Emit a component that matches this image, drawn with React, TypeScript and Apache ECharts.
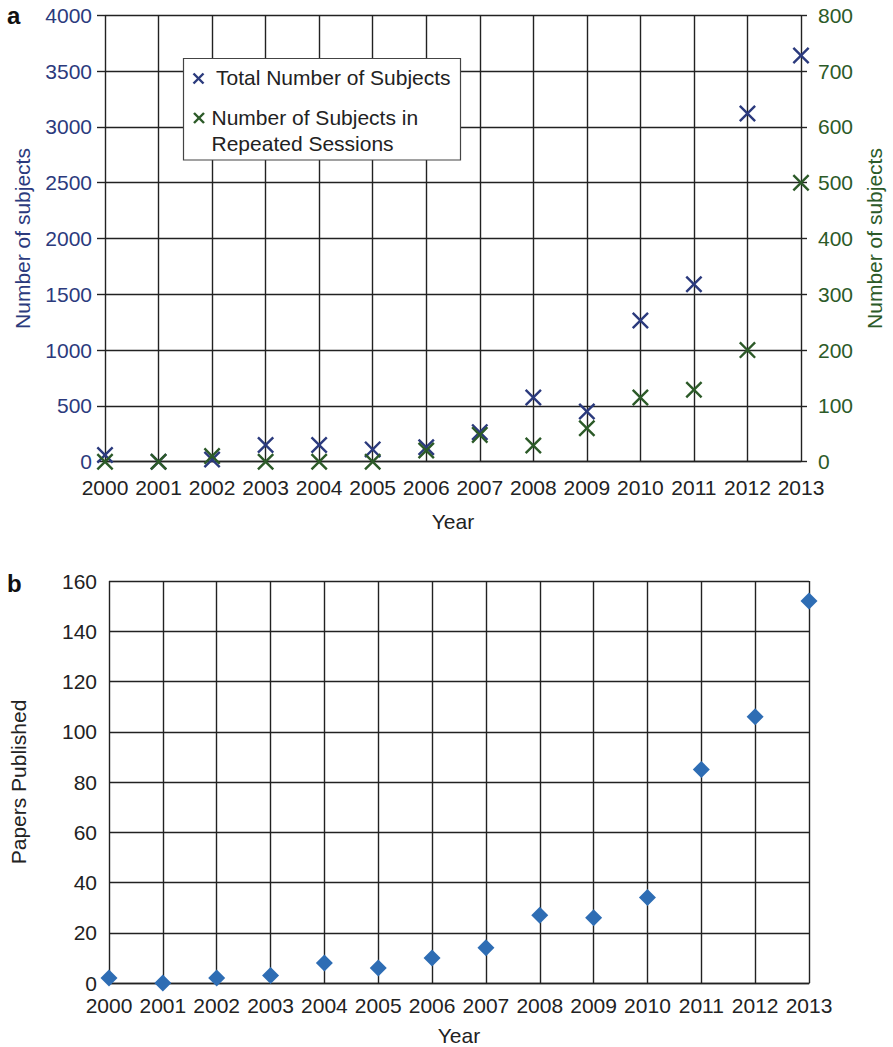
import React, { useEffect, useRef } from "react";
import * as echarts from "echarts";

const years = ["2000", "2001", "2002", "2003", "2004", "2005", "2006", "2007", "2008", "2009", "2010", "2011", "2012", "2013"];
const totalSubjects = [60, 0, 20, 150, 150, 110, 130, 265, 575, 450, 1265, 1590, 3120, 3640];
const repeatedSubjects = [0, 0, 10, 0, 0, 0, 20, 48, 29, 60, 115, 129, 200, 500];
const papersPublished = [2, 0, 2, 3, 8, 6, 10, 14, 27, 26, 34, 85, 106, 152];

const NAVY = "#2b3a7d";
const GREEN = "#2c5a28";
const DIAMOND = "#2e6db4";
const GRID = "#222222";
const TEXT = "#222222";
const FONT = "'Liberation Sans', Arial, Helvetica, sans-serif";
const FS = 21;

const X_PATH = "path://M0,10 L10,0 L50,40 L90,0 L100,10 L60,50 L100,90 L90,100 L50,60 L10,100 L0,90 L40,50 Z";

const plain = (v: number) => String(v);

export default function App() {
  const ref = useRef<HTMLDivElement>(null);
  useEffect(() => {
    if (!ref.current) return;
    const chart = echarts.init(ref.current, undefined, { renderer: "svg" });
    const lineStyle = { color: GRID, width: 1.4 };
    const option: any = {
      animation: false,
      textStyle: { fontFamily: FONT },
      grid: [
        { left: 105, top: 15.3, width: 700.7, height: 446.4, containLabel: false },
        { left: 109, top: 581, width: 700, height: 402.3, containLabel: false },
      ],
      xAxis: [
        {
          type: "category", gridIndex: 0, data: years, boundaryGap: false,
          axisLine: { show: true, lineStyle },
          axisTick: { show: false },
          axisLabel: { color: TEXT, fontSize: FS, fontFamily: FONT, margin: 15, interval: 0, hideOverlap: false },
          splitLine: { show: true, interval: 0, lineStyle },
          name: "Year", nameLocation: "middle", nameGap: 49,
          nameTextStyle: { color: TEXT, fontSize: FS, fontFamily: FONT },
        },
        {
          type: "category", gridIndex: 1, data: years, boundaryGap: false,
          axisLine: { show: true, lineStyle },
          axisTick: { show: false },
          axisLabel: { color: TEXT, fontSize: FS, fontFamily: FONT, margin: 12, interval: 0, hideOverlap: false },
          splitLine: { show: true, interval: 0, lineStyle },
          name: "Year", nameLocation: "middle", nameGap: 42,
          nameTextStyle: { color: TEXT, fontSize: FS, fontFamily: FONT },
        },
      ],
      yAxis: [
        {
          type: "value", gridIndex: 0, min: 0, max: 4000, interval: 500, position: "left",
          axisLine: { show: false },
          axisTick: { show: true, length: 8, lineStyle },
          axisLabel: { color: NAVY, fontSize: FS, fontFamily: FONT, margin: 13, formatter: plain },
          splitLine: { show: true, lineStyle },
          name: "Number of subjects", nameLocation: "middle", nameGap: 72,
          nameTextStyle: { color: NAVY, fontSize: FS, fontFamily: FONT },
        },
        {
          type: "value", gridIndex: 0, min: 0, max: 800, interval: 100, position: "right",
          axisLine: { show: false },
          axisTick: { show: true, length: 6, lineStyle },
          axisLabel: { color: GREEN, fontSize: FS, fontFamily: FONT, margin: 17, formatter: plain },
          splitLine: { show: false },
          name: "Number of subjects", nameLocation: "middle", nameGap: 63,
          nameTextStyle: { color: GREEN, fontSize: FS, fontFamily: FONT },
        },
        {
          type: "value", gridIndex: 1, min: 0, max: 160, interval: 20,
          axisLine: { show: false },
          axisTick: { show: false },
          axisLabel: { color: TEXT, fontSize: FS, fontFamily: FONT, margin: 12, formatter: plain },
          splitLine: { show: true, lineStyle },
          name: "Papers Published", nameLocation: "middle", nameGap: 80,
          nameTextStyle: { color: TEXT, fontSize: FS, fontFamily: FONT },
        },
      ],
      series: [
        {
          name: "Total Number of Subjects", type: "scatter", xAxisIndex: 0, yAxisIndex: 0,
          data: totalSubjects, symbol: X_PATH, symbolSize: 17, symbolKeepAspect: true,
          itemStyle: { color: NAVY, opacity: 1 }, z: 3,
        },
        {
          name: "Number of Subjects in Repeated Sessions", type: "scatter", xAxisIndex: 0, yAxisIndex: 1,
          data: repeatedSubjects, symbol: X_PATH, symbolSize: 17, symbolKeepAspect: true,
          itemStyle: { color: GREEN, opacity: 1 }, z: 4,
        },
        {
          name: "Papers Published", type: "scatter", xAxisIndex: 1, yAxisIndex: 2,
          data: papersPublished, symbol: "diamond", symbolSize: 17,
          itemStyle: { color: DIAMOND, opacity: 1 }, z: 3,
        },
      ],
      graphic: [
        { type: "text", left: 7, top: 3, style: { text: "a", fontSize: 24, fontWeight: "bold", fill: "#111", fontFamily: FONT } },
        { type: "text", left: 7, top: 571, style: { text: "b", fontSize: 24, fontWeight: "bold", fill: "#111", fontFamily: FONT } },
        {
          type: "rect", shape: { x: 183.5, y: 58.5, width: 277, height: 101.5 },
          style: { fill: "#fff", stroke: "#444", lineWidth: 1.2 }, z: 10,
        },
        { type: "line", shape: { x1: 193.5, y1: 73.5, x2: 203.5, y2: 83.5 }, style: { stroke: NAVY, lineWidth: 2.4 }, z: 11 },
        { type: "line", shape: { x1: 203.5, y1: 73.5, x2: 193.5, y2: 83.5 }, style: { stroke: NAVY, lineWidth: 2.4 }, z: 11 },
        { type: "text", x: 216, y: 77.5, style: { text: "Total Number of Subjects", fontSize: FS, fill: TEXT, fontFamily: FONT, verticalAlign: "middle" }, z: 11 },
        { type: "line", shape: { x1: 194, y1: 113, x2: 204, y2: 123 }, style: { stroke: GREEN, lineWidth: 2.4 }, z: 11 },
        { type: "line", shape: { x1: 204, y1: 113, x2: 194, y2: 123 }, style: { stroke: GREEN, lineWidth: 2.4 }, z: 11 },
        { type: "text", x: 211.5, y: 117.5, style: { text: "Number of Subjects in", fontSize: FS, fill: TEXT, fontFamily: FONT, verticalAlign: "middle" }, z: 11 },
        { type: "text", x: 211.5, y: 143.5, style: { text: "Repeated Sessions", fontSize: FS, fill: TEXT, fontFamily: FONT, verticalAlign: "middle" }, z: 11 },
      ],
    };
    chart.setOption(option);
    return () => chart.dispose();
  }, []);
  return <div ref={ref} style={{ position: "absolute", left: 0, top: 0, width: 893, height: 1047, background: "#fff" }} />;
}
